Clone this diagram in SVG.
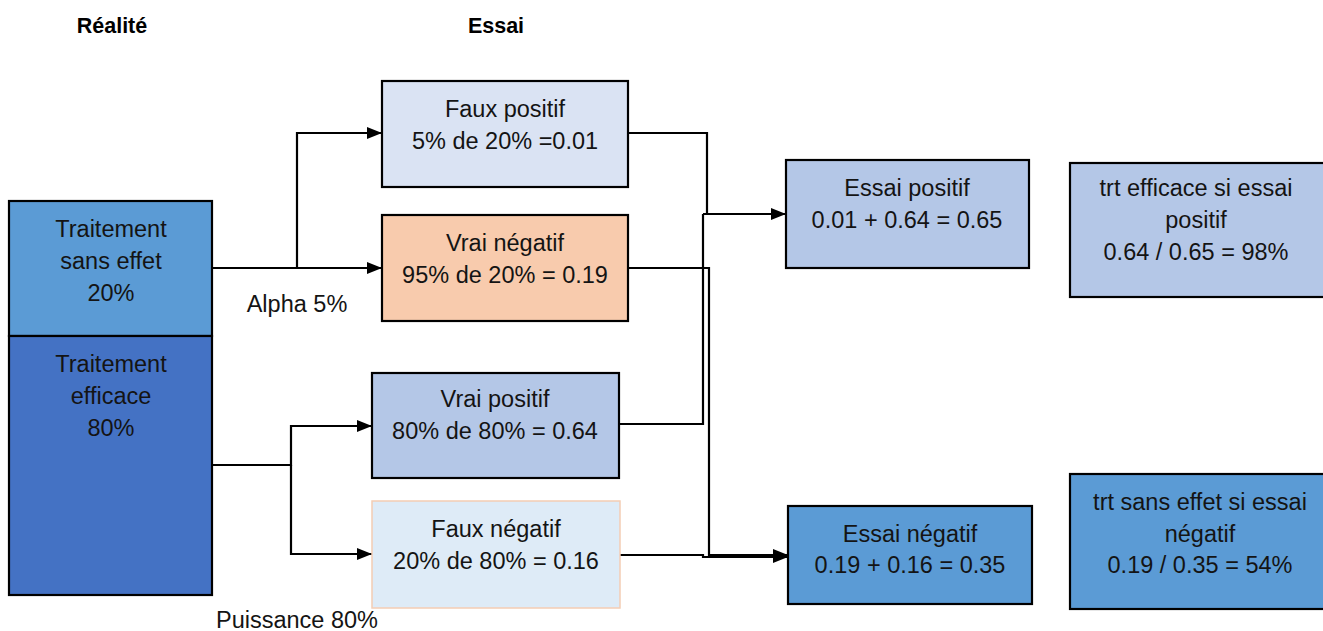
<svg xmlns="http://www.w3.org/2000/svg" width="1323" height="631" viewBox="0 0 1323 631">
<style>
.box{stroke:#000;stroke-width:2.2}
.t{font-family:"Liberation Sans",Arial,sans-serif;font-size:23.5px;fill:#141414;text-anchor:middle}
.h{font-family:"Liberation Sans",Arial,sans-serif;font-size:21.5px;font-weight:bold;fill:#000;text-anchor:middle}
.c{fill:none;stroke:#000;stroke-width:2.2}
</style>
<defs>
<marker id="ar" markerWidth="15" markerHeight="12" refX="15" refY="6" orient="auto" markerUnits="userSpaceOnUse">
<path d="M0,0 L15,6 L0,12 Z" fill="#000"/>
</marker>
</defs>
<rect width="1323" height="631" fill="#fff"/>
<text class="h" x="112" y="33">Réalité</text>
<text class="h" x="496" y="33">Essai</text>

<g id="connectors">
<path class="c" d="M212 268 H382" marker-end="url(#ar)"/>
<path class="c" d="M297 268 V133 H382" marker-end="url(#ar)"/>
<path class="c" d="M212 465 H291 V426 H372" marker-end="url(#ar)"/>
<path class="c" d="M291 465 V554 H372" marker-end="url(#ar)"/>
<path class="c" d="M628 133 H707 V214"/>
<path class="c" d="M703 214 H786" marker-end="url(#ar)"/>
<path class="c" d="M619 424 H703 V214"/>
<path class="c" d="M628 268 H709 V555 H788" marker-end="url(#ar)"/>
<path class="c" d="M620 555 H703 V557 H788" marker-end="url(#ar)"/>
</g>

<g id="sans-effet">
<rect class="box" x="9" y="201" width="203" height="135" fill="#5b9bd5"/>
<text class="t" x="111" y="237">Traitement</text>
<text class="t" x="111" y="269">sans effet</text>
<text class="t" x="111" y="301">20%</text>
</g>
<g id="efficace">
<rect class="box" x="9" y="336" width="203" height="259" fill="#4472c4"/>
<text class="t" x="111" y="372">Traitement</text>
<text class="t" x="111" y="404">efficace</text>
<text class="t" x="111" y="436">80%</text>
</g>
<g id="alpha"><text class="t" x="297" y="312">Alpha 5%</text></g>
<g id="puissance"><text class="t" x="297" y="628">Puissance 80%</text></g>

<g id="faux-positif">
<rect class="box" x="382" y="81" width="246" height="106" fill="#dae3f3"/>
<text class="t" x="505" y="117">Faux positif</text>
<text class="t" x="505" y="149">5% de 20% =0.01</text>
</g>
<g id="vrai-negatif">
<rect class="box" x="382" y="215" width="246" height="106" fill="#f8cbad"/>
<text class="t" x="505" y="251">Vrai négatif</text>
<text class="t" x="505" y="283">95% de 20% = 0.19</text>
</g>
<g id="vrai-positif">
<rect class="box" x="372" y="373" width="247" height="105" fill="#b4c7e7"/>
<text class="t" x="495" y="407">Vrai positif</text>
<text class="t" x="495" y="439">80% de 80% = 0.64</text>
</g>
<g id="faux-negatif">
<rect x="372" y="501" width="248" height="107" fill="#deebf7" stroke="#f4cdb4" stroke-width="1.5"/>
<text class="t" x="496" y="537">Faux négatif</text>
<text class="t" x="496" y="569">20% de 80% = 0.16</text>
</g>
<g id="essai-positif">
<rect class="box" x="786" y="160" width="243" height="108" fill="#b4c7e7"/>
<text class="t" x="907" y="196">Essai positif</text>
<text class="t" x="907" y="228">0.01 + 0.64 = 0.65</text>
</g>
<g id="essai-negatif">
<rect class="box" x="788" y="506" width="244" height="98" fill="#5b9bd5"/>
<text class="t" x="910" y="542">Essai négatif</text>
<text class="t" x="910" y="573">0.19 + 0.16 = 0.35</text>
</g>
<g id="trt-efficace">
<rect class="box" x="1070" y="163" width="256" height="134" fill="#b4c7e7"/>
<text class="t" x="1196" y="196">trt efficace si essai</text>
<text class="t" x="1196" y="228">positif</text>
<text class="t" x="1196" y="260">0.64 / 0.65 = 98%</text>
</g>
<g id="trt-sans-effet">
<rect class="box" x="1070" y="474" width="256" height="135" fill="#5b9bd5"/>
<text class="t" x="1200" y="510">trt sans effet si essai</text>
<text class="t" x="1200" y="542">négatif</text>
<text class="t" x="1200" y="573">0.19 / 0.35 = 54%</text>
</g>
</svg>
